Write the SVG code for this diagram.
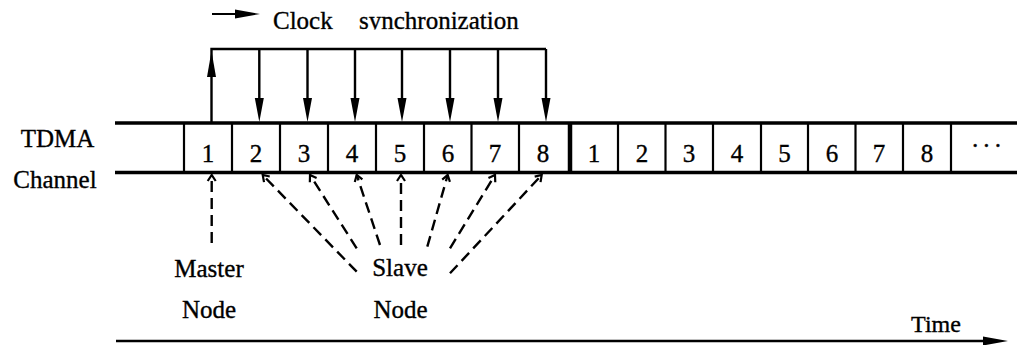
<svg xmlns="http://www.w3.org/2000/svg" width="1017" height="345" viewBox="0 0 1017 345">
  <style>
    text { font-family: "Liberation Serif", "DejaVu Serif", serif; fill: #000; stroke: #000; stroke-width: 0.35; }
    .lbl { font-size: 25px; text-anchor: middle; }
    .num { font-size: 25px; text-anchor: middle; }
    .rail { stroke: #000; stroke-width: 3.5; fill: none; }
    .div { stroke: #000; stroke-width: 2.2; }
    .div-thick { stroke: #000; stroke-width: 4.5; }
    .sync { stroke: #000; stroke-width: 2.4; fill: none; stroke-linejoin: miter; }
    .head { fill: #000; stroke: none; }
    .dash { stroke: #000; stroke-width: 2.4; fill: none; stroke-dasharray: 11 6; marker-end: url(#open-tip); }
  </style>
  <defs>
    <marker id="open-tip" markerUnits="userSpaceOnUse" orient="auto" refX="0" refY="0" markerWidth="16" markerHeight="16" viewBox="-8 -8 16 16" overflow="visible">
      <path d="M-6,-4 L0,0 L-6,4" fill="none" stroke="#000" stroke-width="2.2" stroke-dasharray="none"/>
    </marker>
    <clipPath id="legend-clip">
      <rect x="0" y="0" width="1017" height="29.5"/>
    </clipPath>
  </defs>

  <rect width="1017" height="345" fill="#fff"/>

  <!-- legend: filled arrow meaning clock synchronization -->
  <g id="legend">
    <line x1="212" y1="14" x2="237" y2="14" stroke="#000" stroke-width="2"/>
    <polygon class="head" points="260,14 235,9.5 235,18.5"/>
    <g clip-path="url(#legend-clip)">
      <text x="273" y="28.5" font-size="25">Clock</text>
      <text x="359" y="28.5" font-size="25">synchronization</text>
    </g>
  </g>

  <!-- row labels -->
  <g id="label-tdma">
    <text class="lbl" x="57.5" y="147">TDMA</text>
  </g>
  <g id="label-channel">
    <text class="lbl" x="55" y="188">Channel</text>
  </g>

  <!-- channel rails -->
  <g id="channel">
    <line class="rail" x1="115" y1="123" x2="1017" y2="123"/>
    <line class="rail" x1="115" y1="172.5" x2="1017" y2="172.5"/>
  </g>

  <!-- first TDMA round -->
  <g id="round-1">
    <g id="slot-1-1"><line class="div" x1="184" y1="123" x2="184" y2="172.5"/><text class="num" x="208" y="161.5">1</text></g>
    <g id="slot-1-2"><line class="div" x1="232" y1="123" x2="232" y2="172.5"/><text class="num" x="256" y="161.5">2</text></g>
    <g id="slot-1-3"><line class="div" x1="280" y1="123" x2="280" y2="172.5"/><text class="num" x="304" y="161.5">3</text></g>
    <g id="slot-1-4"><line class="div" x1="328" y1="123" x2="328" y2="172.5"/><text class="num" x="352" y="161.5">4</text></g>
    <g id="slot-1-5"><line class="div" x1="376" y1="123" x2="376" y2="172.5"/><text class="num" x="400" y="161.5">5</text></g>
    <g id="slot-1-6"><line class="div" x1="424" y1="123" x2="424" y2="172.5"/><text class="num" x="448" y="161.5">6</text></g>
    <g id="slot-1-7"><line class="div" x1="471.5" y1="123" x2="471.5" y2="172.5"/><text class="num" x="495" y="161.5">7</text></g>
    <g id="slot-1-8"><line class="div" x1="519" y1="123" x2="519" y2="172.5"/><text class="num" x="543" y="161.5">8</text></g>
  </g>

  <!-- round boundary -->
  <line class="div-thick" x1="570" y1="123" x2="570" y2="172.5"/>

  <!-- second TDMA round -->
  <g id="round-2">
    <g id="slot-2-1"><text class="num" x="594" y="161.5">1</text></g>
    <g id="slot-2-2"><line class="div" x1="618" y1="123" x2="618" y2="172.5"/><text class="num" x="642" y="161.5">2</text></g>
    <g id="slot-2-3"><line class="div" x1="665.5" y1="123" x2="665.5" y2="172.5"/><text class="num" x="689" y="161.5">3</text></g>
    <g id="slot-2-4"><line class="div" x1="713" y1="123" x2="713" y2="172.5"/><text class="num" x="737" y="161.5">4</text></g>
    <g id="slot-2-5"><line class="div" x1="761" y1="123" x2="761" y2="172.5"/><text class="num" x="784.5" y="161.5">5</text></g>
    <g id="slot-2-6"><line class="div" x1="808" y1="123" x2="808" y2="172.5"/><text class="num" x="832" y="161.5">6</text></g>
    <g id="slot-2-7"><line class="div" x1="855.5" y1="123" x2="855.5" y2="172.5"/><text class="num" x="879" y="161.5">7</text></g>
    <g id="slot-2-8"><line class="div" x1="903" y1="123" x2="903" y2="172.5"/><text class="num" x="927" y="161.5">8</text></g>
    <g id="slot-more"><line class="div" x1="951" y1="123" x2="951" y2="172.5"/><text class="num" x="988" y="154" style="letter-spacing:3px">···</text></g>
  </g>

  <!-- node labels -->
  <g id="master-node">
    <text class="lbl" x="209" y="277">Master</text>
    <text class="lbl" x="209" y="318">Node</text>
  </g>
  <g id="slave-node">
    <text class="lbl" x="400" y="276">Slave</text>
    <text class="lbl" x="400.5" y="318">Node</text>
  </g>

  <!-- connectors -->
  <g id="connectors">
    <!-- clock synchronization: master slot 1 broadcasts to slots 2..8 -->
    <path class="sync" d="M211.5,122 V49 H546 M259.3,49 V100 M307.5,49 V100 M355,49 V100 M402,49 V100 M450,49 V100 M498,49 V100 M546,49 V100"/>
    <polygon class="head" points="211.5,51 207,77 216,77"/>
    <polygon class="head" points="259.3,122 254.8,98 263.8,98"/>
    <polygon class="head" points="307.5,122 303,98 312,98"/>
    <polygon class="head" points="355,122 350.5,98 359.5,98"/>
    <polygon class="head" points="402,122 397.5,98 406.5,98"/>
    <polygon class="head" points="450,122 445.5,98 454.5,98"/>
    <polygon class="head" points="498,122 493.5,98 502.5,98"/>
    <polygon class="head" points="546,122 541.5,98 550.5,98"/>

    <!-- slot ownership: nodes to their slots -->
    <path class="dash" d="M211.7,243 L211.7,175"/>
    <path class="dash" d="M356.7,271.7 L262.7,175"/>
    <path class="dash" d="M356.7,248.3 L310,175"/>
    <path class="dash" d="M380,245 L356.7,175"/>
    <path class="dash" d="M401,245 L401,175"/>
    <path class="dash" d="M427.3,246.7 L447.7,175"/>
    <path class="dash" d="M450,248.3 L495,175"/>
    <path class="dash" d="M450,273.3 L541.7,175"/>
  </g>

  <!-- time axis -->
  <g id="time-axis">
    <line x1="116" y1="341" x2="985" y2="341" stroke="#000" stroke-width="2.5"/>
    <polygon class="head" points="1008,341 983,336.5 983,345.5"/>
    <text x="936" y="331.5" style="font-size:24px;text-anchor:middle">Time</text>
  </g>
</svg>
